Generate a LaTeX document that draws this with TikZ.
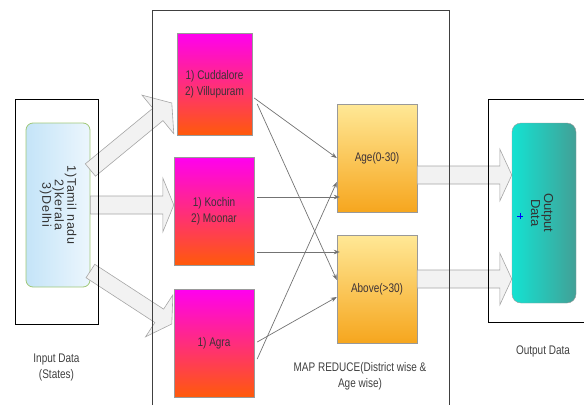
\documentclass[tikz,border=0pt]{standalone}
\usepackage{fontspec}
\setmainfont{Liberation Sans}[FakeStretch=0.8]
\newfontfamily\rotfont{Liberation Sans}
\newfontfamily\rotwide{Liberation Sans}[LetterSpace=6]
\usetikzlibrary{calc,positioning,arrows.meta}

\definecolor{mapTop}{RGB}{255,0,240}
\definecolor{mapBot}{RGB}{255,90,10}
\definecolor{redTop}{RGB}{255,232,150}
\definecolor{redMid}{RGB}{255,194,0}
\definecolor{redBot}{RGB}{246,166,30}
\definecolor{outLeft}{RGB}{20,226,210}
\definecolor{outRight}{RGB}{66,160,150}
\definecolor{inLeft}{RGB}{196,228,248}
\definecolor{inRight}{RGB}{236,246,253}
\definecolor{inEdge}{RGB}{160,200,120}
\definecolor{fatFill}{RGB}{242,242,242}
\definecolor{txtDark}{RGB}{60,50,55}

\tikzset{
	mapbox/.style={draw=gray!80, top color=mapTop, bottom color=mapBot, minimum width=80pt, minimum height=108pt, align=center, text=txtDark},
	redbox/.style={draw=gray!80, top color=redTop, middle color=redMid, bottom color=redBot, minimum width=80pt, minimum height=108pt, text=txtDark},
	blockarrow/.style={draw=gray!70, line width=0.6pt, fill=fatFill, line join=miter},
	thin/.style={draw=gray!90!black, line width=0.7pt, -{Stealth[length=6pt,width=4.5pt]}},
	caption/.style={align=center, text=black!75}
}

% #1 start, #2 tip, #3 half shaft, #4 half head, #5 head length
\newcommand{\blockarrow}[5]{%
	\coordinate (ba-h) at ($(#2)!#5!(#1)$);
	\draw[blockarrow] ($(#1)!#3!90:(#2)$) -- ($(ba-h)!#3!-90:(#1)$) -- ($(ba-h)!#4!-90:(#1)$) -- (#2)
		-- ($(ba-h)!#4!90:(#1)$) -- ($(ba-h)!#3!90:(#1)$) -- ($(#1)!#3!-90:(#2)$) -- cycle;
}

\begin{document}
\begin{tikzpicture}[x=1pt,y=-1pt,font=\fontsize{12.5}{16}\selectfont]
	
	\useasboundingbox (0,0) rectangle (584,405);
	\clip (0,0) rectangle (584,405);
	
	% input side
	\node[minimum width=83pt, minimum height=225pt] (inbox) at (56.5,211.5) {};
	\node[draw=inEdge, line width=0.8pt, rounded corners=7pt, left color=inLeft, right color=inRight,
		minimum width=64pt, minimum height=164pt] (states) at (58,205) {};
	\node[rotate=-90, align=center, text=black!80, font=\rotwide\fontsize{12.5}{12.5}\selectfont] at (states.center) {1)Tamil nadu\\2)kerala\\3)Delhi};
	
	% mappers
	\node[mapbox, minimum width=75pt, minimum height=102pt] (cud) at (214.5,84) {1) Cuddalore\\2) Villupuram};
	\node[mapbox] (koc) at (214,211) {1) Kochin\\2) Moonar};
	\node[mapbox] (agr) at (214,343) {1) Agra};
	
	% reducers
	\node[redbox] (young) at (377,158) {Age(0-30)};
	\node[redbox] (old) at (377,289) {Above(>30)};
	
	% output side
	\node[minimum width=102pt, minimum height=223pt] (outbox) at (539,210.5) {};
	\node[draw=gray!80, rounded corners=9pt, left color=outLeft, right color=outRight,
		minimum width=64pt, minimum height=180pt] (result) at (544,213) {};
	\node[rotate=-90, align=center, text=black!80, font=\rotfont\fontsize{13}{13}\selectfont] at (542,213) {Output\\Data};
	\draw[blue, line width=0.6pt] (517,216) -- (523,216) (520,213) -- (520,219);
	
	% fat arrows
	\coordinate (s1) at ([yshift=35pt]states.east);
	\coordinate (t1) at ([shift={(-5pt,-19pt)}]cud.west);
	\coordinate (s3) at ([yshift=-66pt]states.east);
	\coordinate (t3) at ([shift={(-2pt,19pt)}]agr.west);
	\coordinate (s4) at ([yshift=-17pt]young.east);
	\coordinate (s5) at ([yshift=10pt]old.east);
	\blockarrow{s1}{t1}{8pt}{25pt}{18pt}
	\blockarrow{states.east}{states.east -| koc.west}{9pt}{27pt}{11pt}
	\blockarrow{s3}{t3}{8pt}{25pt}{15pt}
	\blockarrow{s4}{s4 -| result.west}{9pt}{26pt}{12pt}
	\blockarrow{s5}{s5 -| result.west}{9pt}{26pt}{12pt}
	
	% frames
	\draw[line width=0.6pt] (inbox.north west) rectangle (inbox.south east);
	\draw[line width=0.6pt] (outbox.south east) -- (outbox.south west) -- (outbox.north west) -- (outbox.north east);
	\draw[gray!50!black, line width=0.6pt] (152,405) -- (152,10) -- (449,10) -- (449,405);
	
	% map -> reduce
	\draw[thin] ([shift={(2pt,-14pt)}]cud.east) -- (young.west);
	\draw[thin] ([shift={(5pt,-20pt)}]cud.east) -- ([yshift=9pt]old.west);
	\draw[thin] ([shift={(3pt,14pt)}]koc.east) -- ([shift={(3pt,14pt)}]koc.east -| young.west);
	\draw[thin] ([shift={(3pt,-41pt)}]koc.east) -- ([shift={(3pt,-41pt)}]koc.east -| old.west);
	\draw[thin] ([shift={(3pt,1pt)}]agr.east) -- ([yshift=-8pt]old.west);
	\draw[thin] ([shift={(3pt,-16pt)}]agr.east) -- ([yshift=-24pt]young.west);
	%\draw[thin] (agr.east) -- (young.west);
	
	% captions
	\node[caption, below=26pt of inbox] {Input Data\\(States)};
	\node[caption] at (360,376) {MAP REDUCE(District wise \&\\Age wise)};
	\node[caption, below=20pt of outbox.south, xshift=4pt] {Output Data};
	
\end{tikzpicture}
\end{document}
